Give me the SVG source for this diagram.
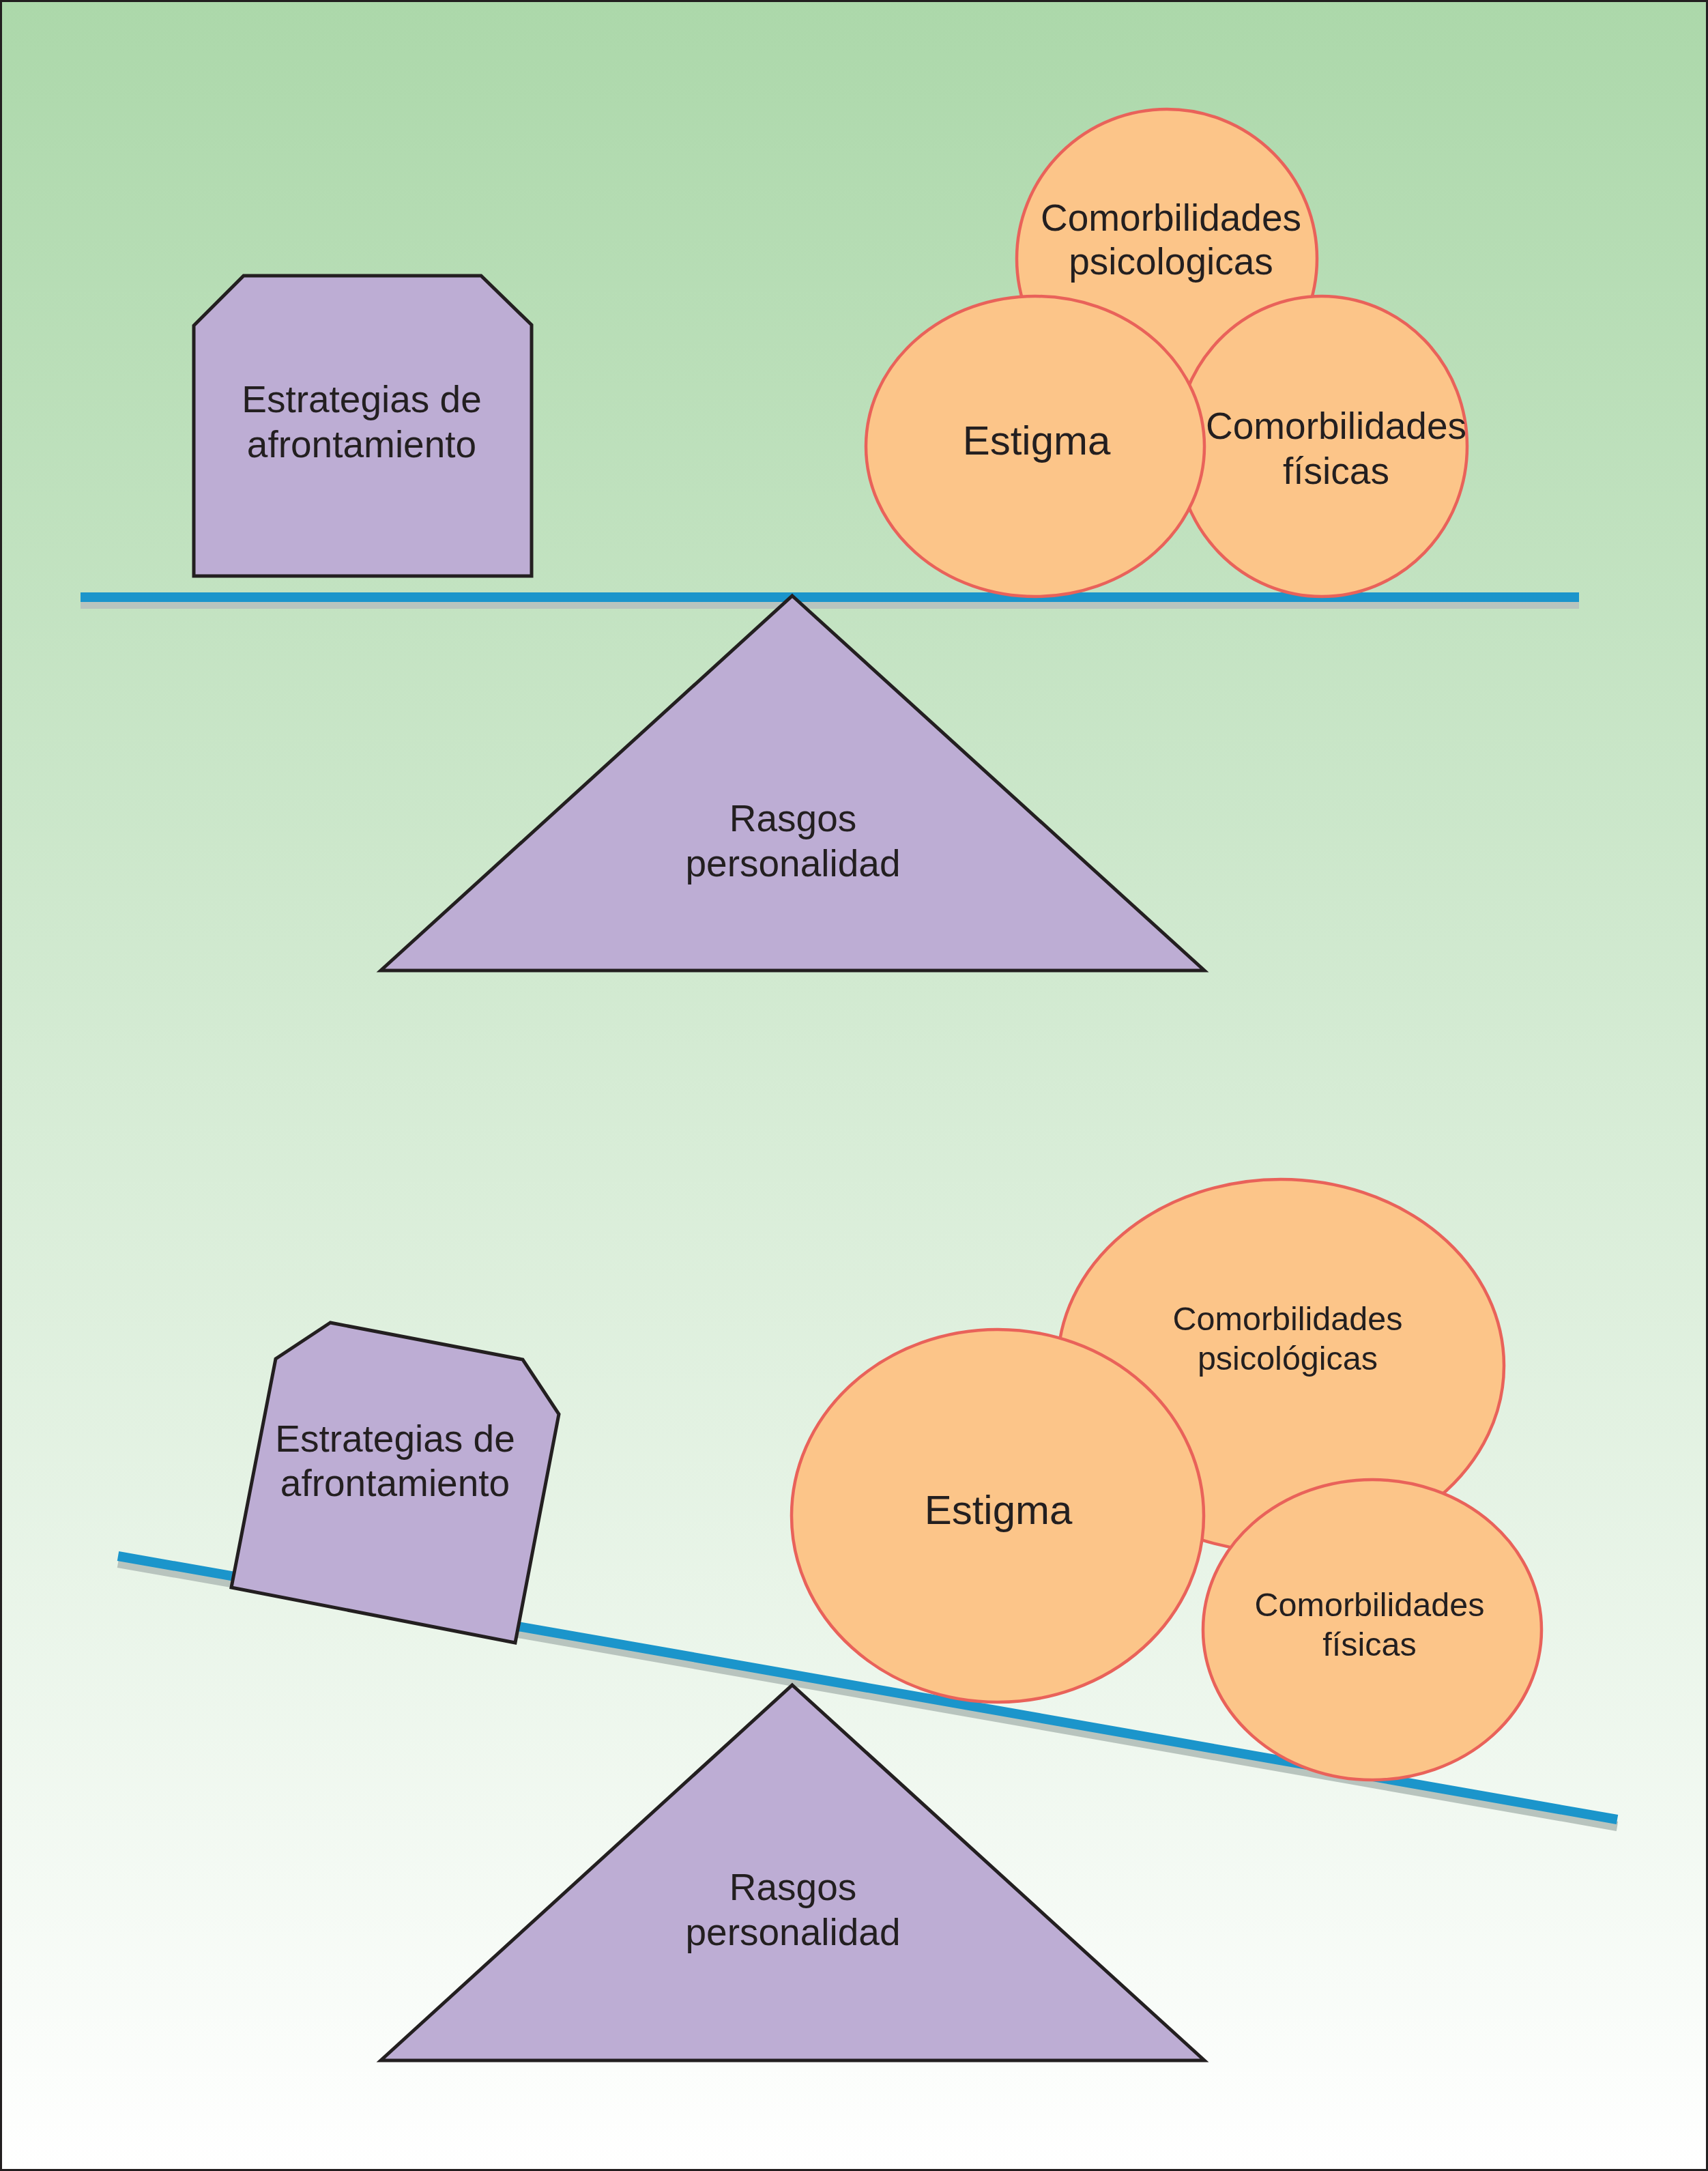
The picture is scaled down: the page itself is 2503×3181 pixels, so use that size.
<svg xmlns="http://www.w3.org/2000/svg" width="2503" height="3181" viewBox="0 0 2503 3181">
<defs>
<linearGradient id="bg" x1="0" y1="0" x2="0" y2="1">
<stop offset="0" stop-color="#acd8aa"/>
<stop offset="1" stop-color="#ffffff"/>
</linearGradient>
</defs>
<style>
.purple{fill:#bdadd4;stroke:#231f20;stroke-width:5;stroke-linejoin:miter}
.ball{fill:#fcc589;stroke:#e9625a;stroke-width:4.5}
.beam{stroke:#1b95cb;stroke-width:14;fill:none}
.shadow{stroke:#b8c4be;stroke-width:14;fill:none}
text{font-family:"Liberation Sans",Arial,Helvetica,sans-serif;fill:#231f20;text-anchor:middle}
.t55{font-size:55px}
.t60{font-size:60px}
.t48{font-size:48.5px}
</style>
<rect x="1.5" y="1.5" width="2500" height="3178" fill="url(#bg)" stroke="#231f20" stroke-width="3"/>

<!-- TOP SCENE -->
<g id="beam-top">
<line class="shadow" x1="118" y1="885" x2="2314" y2="885"/>
<line class="beam" x1="118" y1="875" x2="2314" y2="875"/>
</g>
<g id="estrategias-top">
<polygon class="purple" points="284,477 357,404 705,404 779,476 779,844 284,844"/>
<text class="t55" x="530" y="604">Estrategias de</text>
<text class="t55" x="530" y="670">afrontamiento</text>
</g>
<g id="rasgos-top">
<polygon class="purple" points="1161,873 1765,1422 558,1422"/>
<text class="t55" x="1162" y="1218">Rasgos</text>
<text class="t55" x="1162" y="1284">personalidad</text>
</g>
<g id="psicologicas-top">
<ellipse class="ball" cx="1710" cy="379" rx="220" ry="219"/>
<text class="t55" x="1716" y="338">Comorbilidades</text>
<text class="t55" x="1716" y="402">psicologicas</text>
</g>
<g id="fisicas-top">
<ellipse class="ball" cx="1937" cy="654" rx="213" ry="220"/>
<text class="t55" x="1958" y="643">Comorbilidades</text>
<text class="t55" x="1958" y="709">físicas</text>
</g>
<g id="estigma-top">
<ellipse class="ball" cx="1517" cy="654" rx="248" ry="220"/>
<text class="t60" x="1519" y="666">Estigma</text>
</g>

<!-- BOTTOM SCENE -->
<g id="beam-bottom">
<line class="shadow" x1="173" y1="2290" x2="2370" y2="2676"/>
<line class="beam" x1="173" y1="2280" x2="2370" y2="2666"/>
</g>
<g id="estrategias-bottom">
<polygon class="purple" points="484,1938 404,1991 339,2326 755,2407 819,2072 766,1992"/>
<text class="t55" x="579" y="2127">Estrategias de</text>
<text class="t55" x="579" y="2192">afrontamiento</text>
</g>
<g id="rasgos-bottom">
<polygon class="purple" points="1161,2469 1765,3019 558,3019"/>
<text class="t55" x="1162" y="2784">Rasgos</text>
<text class="t55" x="1162" y="2850">personalidad</text>
</g>
<g id="psicologicas-bottom">
<ellipse class="ball" cx="1877" cy="2001" rx="327" ry="273"/>
<text class="t48" x="1887" y="1949">Comorbilidades</text>
<text class="t48" x="1887" y="2007">psicológicas</text>
</g>
<g id="estigma-bottom">
<ellipse class="ball" cx="1462" cy="2221" rx="302" ry="273"/>
<text class="t60" x="1463" y="2233">Estigma</text>
</g>
<g id="fisicas-bottom">
<ellipse class="ball" cx="2011" cy="2388" rx="248" ry="220"/>
<text class="t48" x="2007" y="2368">Comorbilidades</text>
<text class="t48" x="2007" y="2426">físicas</text>
</g>
</svg>
